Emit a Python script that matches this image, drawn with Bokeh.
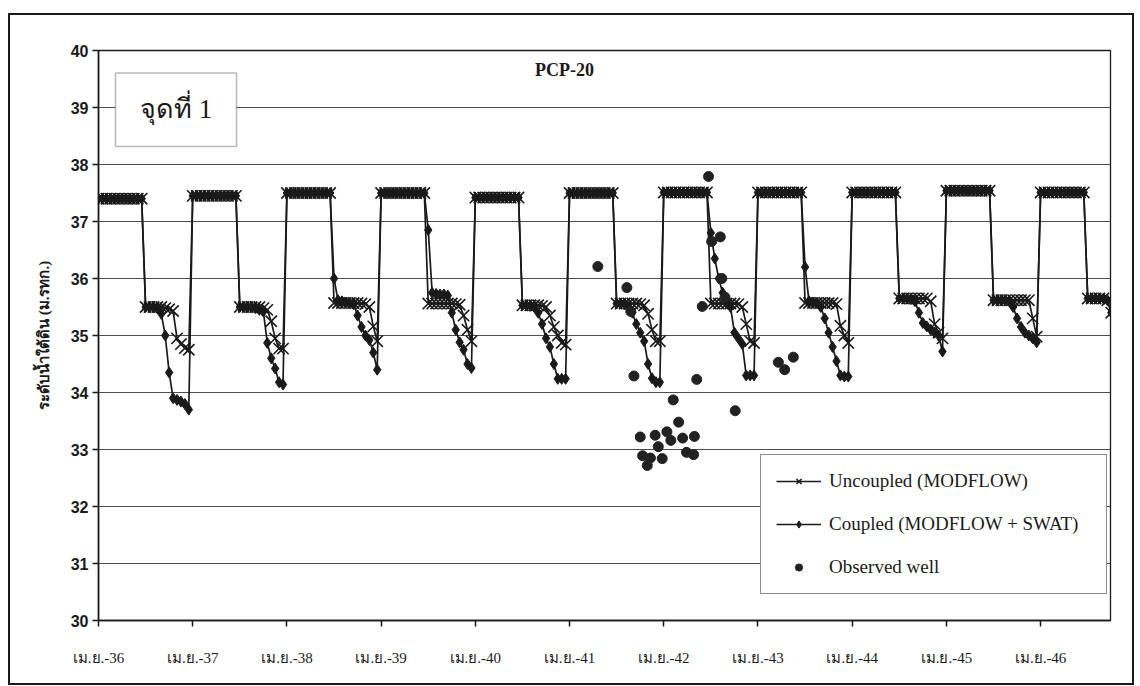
from bokeh.plotting import figure
from bokeh.models import (Range1d, FixedTicker, Legend, LegendItem, Label,
                          BoxAnnotation)
from bokeh.embed import file_html
from bokeh.resources import INLINE

# ---------------- data ----------------
# time inside each hydrological year, months after 1 April (semi-monthly steps)
half_months = [0, 0.5, 1, 1.5, 2, 2.5, 3, 3.5, 4, 4.5, 5, 5.5,
               6, 6.5, 7, 7.5, 8, 8.5, 9, 9.5, 10, 10.5, 11, 11.5]

tick_labels = ["เม.ย.-36", "เม.ย.-37", "เม.ย.-38", "เม.ย.-39", "เม.ย.-40", "เม.ย.-41",
               "เม.ย.-42", "เม.ย.-43", "เม.ย.-44", "เม.ย.-45", "เม.ย.-46"]

# Uncoupled (MODFLOW), one list per year (m MSL)
unc_36 = [37.40, 37.40, 37.40, 37.40, 37.40, 37.40, 37.40, 37.40, 37.40, 37.40, 37.40, 37.40,
          35.50, 35.50, 35.50, 35.50, 35.50, 35.48, 35.46, 35.43, 34.95, 34.85, 34.78, 34.75]
unc_37 = [37.45, 37.45, 37.45, 37.45, 37.45, 37.45, 37.45, 37.45, 37.45, 37.45, 37.45, 37.45,
          35.50, 35.50, 35.50, 35.50, 35.50, 35.50, 35.48, 35.45, 35.25, 34.95, 34.77, 34.77]
unc_38 = [37.50, 37.50, 37.50, 37.50, 37.50, 37.50, 37.50, 37.50, 37.50, 37.50, 37.50, 37.50,
          35.57, 35.57, 35.57, 35.57, 35.57, 35.57, 35.57, 35.56, 35.55, 35.50, 35.16, 34.90]
unc_39 = [37.50, 37.50, 37.50, 37.50, 37.50, 37.50, 37.50, 37.50, 37.50, 37.50, 37.50, 37.50,
          35.56, 35.56, 35.56, 35.56, 35.56, 35.56, 35.56, 35.55, 35.54, 35.35, 35.10, 34.90]
unc_40 = [37.42, 37.42, 37.42, 37.42, 37.42, 37.42, 37.42, 37.42, 37.42, 37.42, 37.42, 37.42,
          35.53, 35.53, 35.53, 35.53, 35.53, 35.52, 35.50, 35.35, 35.15, 35.00, 34.87, 34.84]
unc_41 = [37.50, 37.50, 37.50, 37.50, 37.50, 37.50, 37.50, 37.50, 37.50, 37.50, 37.50, 37.50,
          35.56, 35.56, 35.56, 35.56, 35.56, 35.56, 35.55, 35.53, 35.38, 35.10, 34.90, 34.90]
unc_42 = [37.51, 37.51, 37.51, 37.51, 37.51, 37.51, 37.51, 37.51, 37.51, 37.51, 37.51, 37.51,
          35.56, 35.56, 35.56, 35.56, 35.56, 35.56, 35.56, 35.55, 35.50, 35.20, 34.90, 34.87]
unc_43 = [37.51, 37.51, 37.51, 37.51, 37.51, 37.51, 37.51, 37.51, 37.51, 37.51, 37.51, 37.51,
          35.57, 35.57, 35.57, 35.57, 35.57, 35.57, 35.57, 35.57, 35.55, 35.17, 35.00, 34.87]
unc_44 = [37.51, 37.51, 37.51, 37.51, 37.51, 37.51, 37.51, 37.51, 37.51, 37.51, 37.51, 37.51,
          35.65, 35.65, 35.65, 35.65, 35.65, 35.65, 35.65, 35.65, 35.60, 35.20, 35.05, 34.95]
unc_45 = [37.54, 37.54, 37.54, 37.54, 37.54, 37.54, 37.54, 37.54, 37.54, 37.54, 37.54, 37.54,
          35.62, 35.62, 35.62, 35.62, 35.62, 35.62, 35.62, 35.62, 35.62, 35.62, 35.30, 34.98]
unc_46 = [37.51, 37.51, 37.51, 37.51, 37.51, 37.51, 37.51, 37.51, 37.51, 37.51, 37.51, 37.51,
          35.65, 35.65, 35.65, 35.65, 35.65, 35.62, 35.40]

# Coupled (MODFLOW + SWAT)
cpl_36 = [37.40, 37.40, 37.40, 37.40, 37.40, 37.40, 37.40, 37.40, 37.40, 37.40, 37.40, 37.40,
          35.50, 35.50, 35.50, 35.48, 35.38, 35.00, 34.35, 33.90, 33.87, 33.84, 33.80, 33.70]
cpl_37 = [37.45, 37.45, 37.45, 37.45, 37.45, 37.45, 37.45, 37.45, 37.45, 37.45, 37.45, 37.45,
          35.50, 35.50, 35.50, 35.50, 35.48, 35.45, 35.42, 34.87, 34.60, 34.42, 34.18, 34.14]
cpl_38 = [37.50, 37.50, 37.50, 37.50, 37.50, 37.50, 37.50, 37.50, 37.50, 37.50, 37.50, 37.50,
          36.00, 35.62, 35.60, 35.58, 35.57, 35.55, 35.35, 35.15, 35.00, 34.92, 34.70, 34.40]
cpl_39 = [37.50, 37.50, 37.50, 37.50, 37.50, 37.50, 37.50, 37.50, 37.50, 37.50, 37.50, 37.50,
          36.85, 35.75, 35.73, 35.72, 35.72, 35.70, 35.40, 35.10, 34.88, 34.75, 34.50, 34.43]
cpl_40 = [37.42, 37.42, 37.42, 37.42, 37.42, 37.42, 37.42, 37.42, 37.42, 37.42, 37.42, 37.42,
          35.53, 35.53, 35.52, 35.50, 35.40, 35.20, 34.95, 34.80, 34.50, 34.24, 34.24, 34.24]
cpl_41 = [37.50, 37.50, 37.50, 37.50, 37.50, 37.50, 37.50, 37.50, 37.50, 37.50, 37.50, 37.50,
          35.56, 35.56, 35.55, 35.50, 35.40, 35.20, 35.05, 34.90, 34.50, 34.25, 34.18, 34.18]
cpl_42 = [37.51, 37.51, 37.51, 37.51, 37.51, 37.51, 37.51, 37.51, 37.51, 37.51, 37.51, 37.51,
          36.80, 36.35, 36.00, 35.75, 35.60, 35.50, 35.05, 34.95, 34.85, 34.30, 34.30, 34.30]
cpl_43 = [37.51, 37.51, 37.51, 37.51, 37.51, 37.51, 37.51, 37.51, 37.51, 37.51, 37.51, 37.51,
          36.20, 35.60, 35.58, 35.57, 35.50, 35.30, 35.05, 34.80, 34.55, 34.30, 34.28, 34.28]
cpl_44 = [37.51, 37.51, 37.51, 37.51, 37.51, 37.51, 37.51, 37.51, 37.51, 37.51, 37.51, 37.51,
          35.65, 35.65, 35.65, 35.64, 35.60, 35.40, 35.22, 35.16, 35.10, 35.05, 35.00, 34.72]
cpl_45 = [37.54, 37.54, 37.54, 37.54, 37.54, 37.54, 37.54, 37.54, 37.54, 37.54, 37.54, 37.54,
          35.62, 35.62, 35.62, 35.62, 35.60, 35.50, 35.30, 35.15, 35.05, 35.00, 34.95, 34.88]
cpl_46 = [37.51, 37.51, 37.51, 37.51, 37.51, 37.51, 37.51, 37.51, 37.51, 37.51, 37.51, 37.51,
          35.65, 35.65, 35.65, 35.65, 35.65, 35.62, 35.40]

# Observed well (months after เม.ย.-36, level)
obs_t = [63.6, 67.3, 67.8, 68.2, 69.0, 69.3, 69.9, 70.3, 70.9, 71.3, 71.8, 72.4, 72.9,
         73.2, 73.9, 74.4, 74.9, 75.8, 75.9, 76.2, 76.9, 77.7, 78.1, 79.2, 79.4, 79.8,
         81.1, 86.6, 87.4, 88.5]
obs_v = [36.21, 35.84, 35.42, 34.29, 33.22, 32.89, 32.72, 32.85, 33.25, 33.05, 32.84, 33.31,
         33.16, 33.87, 33.48, 33.20, 32.95, 32.91, 33.23, 34.23, 35.51, 37.79, 36.65, 36.73,
         36.00, 35.67, 33.68, 34.53, 34.40, 34.62]

unc_years = [unc_36, unc_37, unc_38, unc_39, unc_40, unc_41, unc_42, unc_43, unc_44, unc_45, unc_46]
cpl_years = [cpl_36, cpl_37, cpl_38, cpl_39, cpl_40, cpl_41, cpl_42, cpl_43, cpl_44, cpl_45, cpl_46]


def flatten(per_year):
    xs, ys = [], []
    for i, vals in enumerate(per_year):
        for t, v in zip(half_months, vals):
            xs.append(12 * i + t)
            ys.append(v)
    return xs, ys


unc_x, unc_y = flatten(unc_years)
cpl_x, cpl_y = flatten(cpl_years)
tick_pos = [12 * i for i in range(len(tick_labels))]

# ---------------- figure ----------------
INK = "#1a1a1a"
SERIF = "Liberation Serif"
GRAD = "linear-gradient(#1a1a1a,#1a1a1a)"

p = figure(width=1140, height=686, output_backend="svg", toolbar_location=None,
           x_range=Range1d(0, 128.9), y_range=Range1d(30, 40),
           min_border_left=98, min_border_right=30, min_border_top=50, min_border_bottom=66,
           background_fill_color="white", border_fill_color=None)

# outer frame of the whole picture (page background lines behind a transparent border)
p.styles = {
    "background-color": "white",
    "background-image": ", ".join([GRAD] * 4),
    "background-size": "1126px 2px, 1126px 2px, 2px 672px, 2px 672px",
    "background-position": "8px 13px, 8px 683px, 8px 13px, 1132px 13px",
    "background-repeat": "no-repeat",
}

p.outline_line_color = INK
p.outline_line_width = 1.3

p.xgrid.visible = False
p.ygrid.ticker = FixedTicker(ticks=[30, 31, 32, 33, 34, 35, 36, 37, 38, 39, 40])
p.ygrid.grid_line_color = "#4d4d4d"
p.ygrid.grid_line_width = 1

# axes
p.yaxis.ticker = FixedTicker(ticks=[30, 31, 32, 33, 34, 35, 36, 37, 38, 39, 40])
p.yaxis.minor_tick_line_color = None
p.yaxis.major_tick_out = 6
p.yaxis.major_tick_in = 0
p.yaxis.axis_line_color = INK
p.yaxis.axis_line_width = 1.6
p.yaxis.major_tick_line_color = INK
p.yaxis.major_tick_line_width = 1.5
p.yaxis.major_label_text_font = "Liberation Sans"
p.yaxis.major_label_text_font_style = "bold"
p.yaxis.major_label_text_font_size = "16px"
p.yaxis.major_label_text_color = INK
p.yaxis.major_label_standoff = 4
p.yaxis.axis_label = "ระดับน้ำใต้ดิน (ม.รทก.)"
p.yaxis.axis_label_text_font = SERIF
p.yaxis.axis_label_text_font_style = "bold"
p.yaxis.axis_label_text_font_size = "15px"
p.yaxis.axis_label_text_color = INK
p.yaxis.axis_label_standoff = 16

p.xaxis.ticker = FixedTicker(ticks=tick_pos)
p.xaxis.major_label_overrides = {pos: lab for pos, lab in zip(tick_pos, tick_labels)}
p.xaxis.minor_tick_line_color = None
p.xaxis.major_tick_out = 6
p.xaxis.major_tick_in = 0
p.xaxis.axis_line_color = INK
p.xaxis.axis_line_width = 1.6
p.xaxis.major_tick_line_color = INK
p.xaxis.major_tick_line_width = 1.5
p.xaxis.major_label_text_font = SERIF
p.xaxis.major_label_text_font_size = "15px"
p.xaxis.major_label_text_color = INK
p.xaxis.major_label_standoff = 23

# series
cpl_line = p.line(cpl_x, cpl_y, line_color=INK, line_width=1.7)
cpl_mark = p.scatter(cpl_x, cpl_y, marker="diamond", size=11, fill_color=INK, line_color=INK)
unc_line = p.line(unc_x, unc_y, line_color=INK, line_width=1.7)
unc_mark = p.scatter(unc_x, unc_y, marker="x", size=16, line_color=INK, line_width=1.6)
obs_mark = p.scatter(obs_t, obs_v, marker="circle", size=10, fill_color="#222222", line_color="#222222")

# legend
legend = Legend(items=[
    LegendItem(label="Uncoupled (MODFLOW)", renderers=[unc_line, unc_mark]),
    LegendItem(label="Coupled (MODFLOW + SWAT)", renderers=[cpl_line, cpl_mark]),
    LegendItem(label="Observed well", renderers=[obs_mark]),
], location=(662, 26), orientation="vertical",
    padding=15, spacing=21, margin=0,
    glyph_width=45, glyph_height=18, label_height=18, label_width=262, label_standoff=8,
    label_text_font=SERIF, label_text_font_size="19px", label_text_color=INK,
    border_line_color=INK, border_line_width=1.3, background_fill_color="white",
    background_fill_alpha=1)
p.add_layout(legend, "center")

# title inside the plot
p.add_layout(Label(x=59.35, y=39.65, text="PCP-20", text_align="center", text_baseline="middle",
                   text_font=SERIF, text_font_style="bold", text_font_size="18px",
                   text_color=INK))

# "จุดที่ 1" box
p.add_layout(BoxAnnotation(left=2.17, right=17.58, top=39.605, bottom=38.316,
                           fill_color="white", fill_alpha=1, line_color=INK, line_width=1.6))
p.add_layout(Label(x=9.9, y=38.97, text="จุดที่ 1", text_align="center", text_baseline="middle",
                   text_font=SERIF, text_font_size="27px", text_color=INK))

open("out.html", "w").write(file_html(p, INLINE))
